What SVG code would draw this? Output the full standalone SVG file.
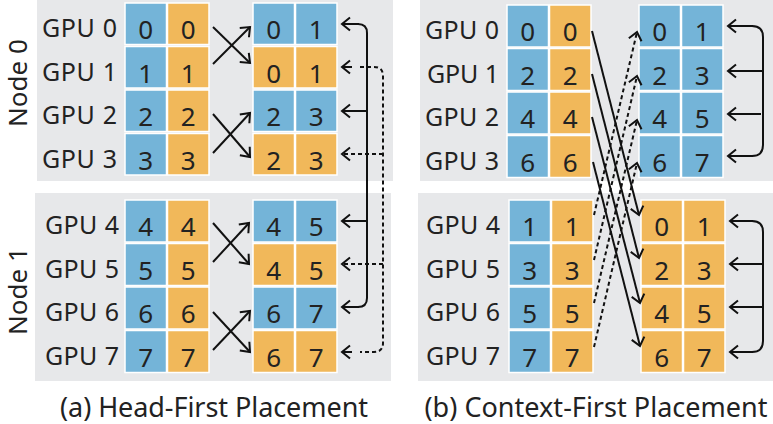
<svg xmlns="http://www.w3.org/2000/svg" width="773" height="424" viewBox="0 0 773 424">
<style>
.bg{fill:#E7E8EA}
.b{fill:#74B4D8;stroke:#fff;stroke-width:1.5}
.o{fill:#F1B85A;stroke:#fff;stroke-width:1.5}
.d{font-family:"Noto Sans","Open Sans",sans-serif;font-size:26px;fill:#222;text-anchor:middle}
.g{font-family:"Noto Sans","Open Sans",sans-serif;font-size:25px;fill:#222;text-anchor:end}
.n{font-family:"Noto Sans","Open Sans",sans-serif;font-size:26px;fill:#222;text-anchor:middle}
.c{font-family:"Noto Sans","Open Sans",sans-serif;font-size:27px;fill:#222;text-anchor:middle}
.s{fill:none;stroke:#111;stroke-width:2}
.ds{fill:none;stroke:#111;stroke-width:2;stroke-dasharray:4 3}
</style>
<defs>
<marker id="ah" markerWidth="14" markerHeight="16" refX="11" refY="8" orient="auto" markerUnits="userSpaceOnUse">
<path d="M3,1.5 L11,8 L3,14.5" fill="none" stroke="#111" stroke-width="2"/>
</marker>
</defs>

<!-- backgrounds -->
<rect class="bg" x="37" y="0" width="356" height="181"/>
<rect class="bg" x="35" y="193" width="356" height="188"/>
<rect class="bg" x="420" y="0" width="353" height="181"/>
<rect class="bg" x="418" y="193" width="355" height="188"/>

<!-- node labels -->
<text class="n" transform="translate(27,83) rotate(-90)">Node 0</text>
<text class="n" transform="translate(27,291) rotate(-90)">Node 1</text>

<!-- (a) source cells -->
<g id="a-gpu0"><text class="g" x="117" y="37" textLength="75">GPU 0</text><rect class="b" x="125" y="3" width="41.5" height="41.5"/><rect class="o" x="167.5" y="3" width="41.5" height="41.5"/><text class="d" x="145.7" y="39">0</text><text class="d" x="188.2" y="39">0</text></g>
<g id="a-gpu1"><text class="g" x="117" y="80.5" textLength="75">GPU 1</text><rect class="b" x="125" y="46.5" width="41.5" height="41.5"/><rect class="o" x="167.5" y="46.5" width="41.5" height="41.5"/><text class="d" x="145.7" y="82.5">1</text><text class="d" x="188.2" y="82.5">1</text></g>
<g id="a-gpu2"><text class="g" x="117" y="124" textLength="75">GPU 2</text><rect class="b" x="125" y="90" width="41.5" height="41.5"/><rect class="o" x="167.5" y="90" width="41.5" height="41.5"/><text class="d" x="145.7" y="126">2</text><text class="d" x="188.2" y="126">2</text></g>
<g id="a-gpu3"><text class="g" x="117" y="167.5" textLength="75">GPU 3</text><rect class="b" x="125" y="133.5" width="41.5" height="41.5"/><rect class="o" x="167.5" y="133.5" width="41.5" height="41.5"/><text class="d" x="145.7" y="169.5">3</text><text class="d" x="188.2" y="169.5">3</text></g>
<g id="a-gpu4"><text class="g" x="119" y="234" textLength="74">GPU 4</text><rect class="b" x="125" y="200" width="41.5" height="42"/><rect class="o" x="167.5" y="200" width="41.5" height="42"/><text class="d" x="145.7" y="236">4</text><text class="d" x="188.2" y="236">4</text></g>
<g id="a-gpu5"><text class="g" x="119" y="277.5" textLength="74">GPU 5</text><rect class="b" x="125" y="243.5" width="41.5" height="42"/><rect class="o" x="167.5" y="243.5" width="41.5" height="42"/><text class="d" x="145.7" y="279.5">5</text><text class="d" x="188.2" y="279.5">5</text></g>
<g id="a-gpu6"><text class="g" x="119" y="321" textLength="74">GPU 6</text><rect class="b" x="125" y="287" width="41.5" height="42"/><rect class="o" x="167.5" y="287" width="41.5" height="42"/><text class="d" x="145.7" y="323">6</text><text class="d" x="188.2" y="323">6</text></g>
<g id="a-gpu7"><text class="g" x="119" y="364.5" textLength="74">GPU 7</text><rect class="b" x="125" y="330.5" width="41.5" height="42"/><rect class="o" x="167.5" y="330.5" width="41.5" height="42"/><text class="d" x="145.7" y="366.5">7</text><text class="d" x="188.2" y="366.5">7</text></g>

<!-- (a) destination cells -->
<g id="a-dst0"><rect class="b" x="253" y="3" width="41.5" height="41.5"/><rect class="b" x="295.5" y="3" width="41.5" height="41.5"/><text class="d" x="273.7" y="39">0</text><text class="d" x="316.2" y="39">1</text></g>
<g id="a-dst1"><rect class="o" x="253" y="46.5" width="41.5" height="41.5"/><rect class="o" x="295.5" y="46.5" width="41.5" height="41.5"/><text class="d" x="273.7" y="82.5">0</text><text class="d" x="316.2" y="82.5">1</text></g>
<g id="a-dst2"><rect class="b" x="253" y="90" width="41.5" height="41.5"/><rect class="b" x="295.5" y="90" width="41.5" height="41.5"/><text class="d" x="273.7" y="126">2</text><text class="d" x="316.2" y="126">3</text></g>
<g id="a-dst3"><rect class="o" x="253" y="133.5" width="41.5" height="41.5"/><rect class="o" x="295.5" y="133.5" width="41.5" height="41.5"/><text class="d" x="273.7" y="169.5">2</text><text class="d" x="316.2" y="169.5">3</text></g>
<g id="a-dst4"><rect class="b" x="253" y="200" width="41.5" height="42"/><rect class="b" x="295.5" y="200" width="41.5" height="42"/><text class="d" x="273.7" y="236">4</text><text class="d" x="316.2" y="236">5</text></g>
<g id="a-dst5"><rect class="o" x="253" y="243.5" width="41.5" height="42"/><rect class="o" x="295.5" y="243.5" width="41.5" height="42"/><text class="d" x="273.7" y="279.5">4</text><text class="d" x="316.2" y="279.5">5</text></g>
<g id="a-dst6"><rect class="b" x="253" y="287" width="41.5" height="42"/><rect class="b" x="295.5" y="287" width="41.5" height="42"/><text class="d" x="273.7" y="323">6</text><text class="d" x="316.2" y="323">7</text></g>
<g id="a-dst7"><rect class="o" x="253" y="330.5" width="41.5" height="42"/><rect class="o" x="295.5" y="330.5" width="41.5" height="42"/><text class="d" x="273.7" y="366.5">6</text><text class="d" x="316.2" y="366.5">7</text></g>

<!-- (b) source cells -->
<g id="b-gpu0"><text class="g" x="499" y="39" textLength="74">GPU 0</text><rect class="b" x="507" y="5" width="41.5" height="42"/><rect class="o" x="549.5" y="5" width="41.5" height="42"/><text class="d" x="527.7" y="41">0</text><text class="d" x="570.2" y="41">0</text></g>
<g id="b-gpu1"><text class="g" x="499" y="82.5" textLength="72">GPU 1</text><rect class="b" x="507" y="48.5" width="41.5" height="42"/><rect class="o" x="549.5" y="48.5" width="41.5" height="42"/><text class="d" x="527.7" y="84.5">2</text><text class="d" x="570.2" y="84.5">2</text></g>
<g id="b-gpu2"><text class="g" x="499" y="126" textLength="74">GPU 2</text><rect class="b" x="507" y="92" width="41.5" height="42"/><rect class="o" x="549.5" y="92" width="41.5" height="42"/><text class="d" x="527.7" y="128">4</text><text class="d" x="570.2" y="128">4</text></g>
<g id="b-gpu3"><text class="g" x="499" y="169.5" textLength="74">GPU 3</text><rect class="b" x="507" y="135.5" width="41.5" height="42"/><rect class="o" x="549.5" y="135.5" width="41.5" height="42"/><text class="d" x="527.7" y="171.5">6</text><text class="d" x="570.2" y="171.5">6</text></g>
<g id="b-gpu4"><text class="g" x="500" y="234" textLength="74">GPU 4</text><rect class="b" x="509" y="200" width="41.5" height="42"/><rect class="o" x="551.5" y="200" width="41.5" height="42"/><text class="d" x="529.7" y="236">1</text><text class="d" x="572.2" y="236">1</text></g>
<g id="b-gpu5"><text class="g" x="500" y="277.5" textLength="74">GPU 5</text><rect class="b" x="509" y="243.5" width="41.5" height="42"/><rect class="o" x="551.5" y="243.5" width="41.5" height="42"/><text class="d" x="529.7" y="279.5">3</text><text class="d" x="572.2" y="279.5">3</text></g>
<g id="b-gpu6"><text class="g" x="500" y="321" textLength="74">GPU 6</text><rect class="b" x="509" y="287" width="41.5" height="42"/><rect class="o" x="551.5" y="287" width="41.5" height="42"/><text class="d" x="529.7" y="323">5</text><text class="d" x="572.2" y="323">5</text></g>
<g id="b-gpu7"><text class="g" x="500" y="364.5" textLength="74">GPU 7</text><rect class="b" x="509" y="330.5" width="41.5" height="42"/><rect class="o" x="551.5" y="330.5" width="41.5" height="42"/><text class="d" x="529.7" y="366.5">7</text><text class="d" x="572.2" y="366.5">7</text></g>

<!-- (b) destination cells -->
<g id="b-dst0"><rect class="b" x="639" y="5" width="41.5" height="42"/><rect class="b" x="681.5" y="5" width="41.5" height="42"/><text class="d" x="659.7" y="41">0</text><text class="d" x="702.2" y="41">1</text></g>
<g id="b-dst1"><rect class="b" x="639" y="48.5" width="41.5" height="42"/><rect class="b" x="681.5" y="48.5" width="41.5" height="42"/><text class="d" x="659.7" y="84.5">2</text><text class="d" x="702.2" y="84.5">3</text></g>
<g id="b-dst2"><rect class="b" x="639" y="92" width="41.5" height="42"/><rect class="b" x="681.5" y="92" width="41.5" height="42"/><text class="d" x="659.7" y="128">4</text><text class="d" x="702.2" y="128">5</text></g>
<g id="b-dst3"><rect class="b" x="639" y="135.5" width="41.5" height="42"/><rect class="b" x="681.5" y="135.5" width="41.5" height="42"/><text class="d" x="659.7" y="171.5">6</text><text class="d" x="702.2" y="171.5">7</text></g>
<g id="b-dst4"><rect class="o" x="641" y="200" width="41.5" height="42"/><rect class="o" x="683.5" y="200" width="41.5" height="42"/><text class="d" x="661.7" y="236">0</text><text class="d" x="704.2" y="236">1</text></g>
<g id="b-dst5"><rect class="o" x="641" y="243.5" width="41.5" height="42"/><rect class="o" x="683.5" y="243.5" width="41.5" height="42"/><text class="d" x="661.7" y="279.5">2</text><text class="d" x="704.2" y="279.5">3</text></g>
<g id="b-dst6"><rect class="o" x="641" y="287" width="41.5" height="42"/><rect class="o" x="683.5" y="287" width="41.5" height="42"/><text class="d" x="661.7" y="323">4</text><text class="d" x="704.2" y="323">5</text></g>
<g id="b-dst7"><rect class="o" x="641" y="330.5" width="41.5" height="42"/><rect class="o" x="683.5" y="330.5" width="41.5" height="42"/><text class="d" x="661.7" y="366.5">6</text><text class="d" x="704.2" y="366.5">7</text></g>

<!-- connectors -->
<g id="connectors">
<!-- (a) crosses -->
<path class="s" d="M213,27 L250,63" marker-end="url(#ah)"/>
<path class="s" d="M213,64 L250,27" marker-end="url(#ah)"/>
<path class="s" d="M213,114 L250,157" marker-end="url(#ah)"/>
<path class="s" d="M213,153 L250,113" marker-end="url(#ah)"/>
<path class="s" d="M213,223 L249,264" marker-end="url(#ah)"/>
<path class="s" d="M213,262 L249,223" marker-end="url(#ah)"/>
<path class="s" d="M213,312 L250,352" marker-end="url(#ah)"/>
<path class="s" d="M213,350 L250,311" marker-end="url(#ah)"/>
<!-- (a) solid bracket -->
<path class="s" d="M358,24 Q367,24 367,33 V298 Q367,307 358,307"/>
<path class="s" d="M359,24 H342" marker-end="url(#ah)"/>
<path class="s" d="M367,111 H342" marker-end="url(#ah)"/>
<path class="s" d="M367,221 H342" marker-end="url(#ah)"/>
<path class="s" d="M359,307 H342" marker-end="url(#ah)"/>
<!-- (a) dashed bracket -->
<path class="ds" d="M360,67 H374 Q383,67 383,76 V343 Q383,352 374,352 H360"/>
<path class="s" d="M352,67 H342" marker-end="url(#ah)"/>
<path class="ds" d="M383,154 H342" marker-end="url(#ah)"/>
<path class="ds" d="M383,264 H342" marker-end="url(#ah)"/>
<path class="s" d="M352,352 H342" marker-end="url(#ah)"/>
<!-- (b) diagonal solid -->
<path class="s" d="M592,31 L639,215" marker-end="url(#ah)"/>
<path class="s" d="M592,74 L639,258" marker-end="url(#ah)"/>
<path class="s" d="M592,117 L640,303" marker-end="url(#ah)"/>
<path class="s" d="M593,162 L640,346" marker-end="url(#ah)"/>
<!-- (b) diagonal dashed -->
<path class="ds" d="M594,215 L637,32" marker-end="url(#ah)"/>
<path class="ds" d="M594,260 L637,76" marker-end="url(#ah)"/>
<path class="ds" d="M594,303 L637,120" marker-end="url(#ah)"/>
<path class="ds" d="M594,347 L637,163" marker-end="url(#ah)"/>
<!-- (b) top bracket -->
<path class="s" d="M752,26 Q763,26 763,37 V145 Q763,156 752,156"/>
<path class="s" d="M753,26 H728" marker-end="url(#ah)"/>
<path class="s" d="M763,71 H728" marker-end="url(#ah)"/>
<path class="s" d="M761,114 H728" marker-end="url(#ah)"/>
<path class="s" d="M753,156 H728" marker-end="url(#ah)"/>
<!-- (b) bottom bracket -->
<path class="s" d="M752,221 Q763,221 763,232 V341 Q763,352 752,352"/>
<path class="s" d="M753,221 H730" marker-end="url(#ah)"/>
<path class="s" d="M763,264 H730" marker-end="url(#ah)"/>
<path class="s" d="M763,307 H730" marker-end="url(#ah)"/>
<path class="s" d="M753,352 H730" marker-end="url(#ah)"/>
</g>

<!-- captions -->
<text class="c" x="214" y="417" textLength="308">(a) Head-First Placement</text>
<text class="c" x="596" y="417" textLength="343">(b) Context-First Placement</text>
</svg>
